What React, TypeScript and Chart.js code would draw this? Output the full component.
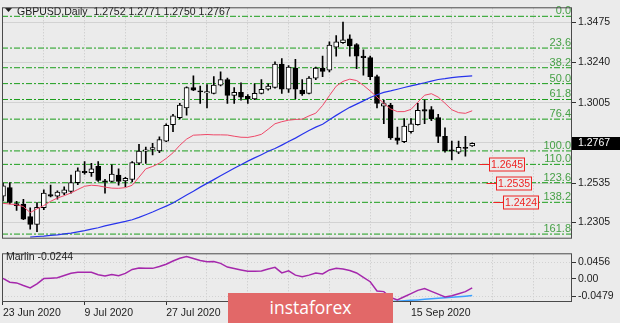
import React, { useEffect, useRef } from 'react';
import { Chart, registerables } from 'chart.js';

Chart.register(...registerables);

// ---------- data ----------
const dates = ['23 Jun 2020','24 Jun 2020','25 Jun 2020','26 Jun 2020','29 Jun 2020','30 Jun 2020','1 Jul 2020','2 Jul 2020','3 Jul 2020','6 Jul 2020','7 Jul 2020','8 Jul 2020','9 Jul 2020','10 Jul 2020','13 Jul 2020','14 Jul 2020','15 Jul 2020','16 Jul 2020','17 Jul 2020','20 Jul 2020','21 Jul 2020','22 Jul 2020','23 Jul 2020','24 Jul 2020','27 Jul 2020','28 Jul 2020','29 Jul 2020','30 Jul 2020','31 Jul 2020','3 Aug 2020','4 Aug 2020','5 Aug 2020','6 Aug 2020','7 Aug 2020','10 Aug 2020','11 Aug 2020','12 Aug 2020','13 Aug 2020','14 Aug 2020','17 Aug 2020','18 Aug 2020','19 Aug 2020','20 Aug 2020','21 Aug 2020','24 Aug 2020','25 Aug 2020','26 Aug 2020','27 Aug 2020','28 Aug 2020','31 Aug 2020','1 Sep 2020','2 Sep 2020','3 Sep 2020','4 Sep 2020','7 Sep 2020','8 Sep 2020','9 Sep 2020','10 Sep 2020','11 Sep 2020','14 Sep 2020','15 Sep 2020','16 Sep 2020','17 Sep 2020','18 Sep 2020','21 Sep 2020','22 Sep 2020','23 Sep 2020','24 Sep 2020','25 Sep 2020','28 Sep 2020'];

const open = [1.2458,1.2509,1.2414,1.2412,1.2338,1.2292,1.2390,1.2467,1.2458,1.2476,
  1.2486,1.2537,1.2603,1.2596,1.2633,1.2548,1.2545,1.2581,1.2548,1.2556,
  1.2651,1.2722,1.2731,1.2723,1.2780,1.2876,1.2918,1.2975,1.3094,1.3075,
  1.3062,1.3060,1.3108,1.3140,1.3048,1.3066,1.3042,1.3027,1.3060,1.3084,
  1.3094,1.3232,1.3084,1.3208,1.3079,1.3060,1.3149,1.3208,1.3195,1.3330,
  1.3357,1.3379,1.3346,1.3278,1.3269,1.3158,1.2985,1.2992,1.2799,1.2777,
  1.2836,1.2876,1.2965,1.2965,1.2918,1.2808,1.2729,1.2716,1.2744,1.2752];
const high = [1.2535,1.2537,1.2428,1.2440,1.2390,1.2421,1.2495,1.2523,1.2490,1.2513,
  1.2581,1.2624,1.2661,1.2651,1.2661,1.2556,1.2642,1.2618,1.2569,1.2661,
  1.2762,1.2745,1.2768,1.2806,1.2882,1.2937,1.3001,1.3098,1.3162,1.3103,
  1.3112,1.3158,1.3186,1.3149,1.3094,1.3121,1.3053,1.3116,1.3140,1.3116,
  1.3245,1.3263,1.3222,1.3259,1.3140,1.3158,1.3214,1.3278,1.3361,1.3398,
  1.3477,1.3403,1.3352,1.3315,1.3278,1.3167,1.3020,1.3001,1.2863,1.2913,
  1.2913,1.3001,1.3020,1.2983,1.2937,1.2858,1.2780,1.2780,1.2808,1.2771];
const low = [1.2430,1.2412,1.2375,1.2320,1.2265,1.2250,1.2379,1.2454,1.2440,1.2467,
  1.2476,1.2526,1.2587,1.2574,1.2545,1.2476,1.2541,1.2523,1.2513,1.2541,
  1.2642,1.2650,1.2700,1.2712,1.2777,1.2836,1.2910,1.2932,1.3075,1.3001,
  1.2974,1.3057,1.3103,1.3001,1.3001,1.3020,1.3001,1.3023,1.3057,1.3079,
  1.3090,1.3060,1.3066,1.3029,1.3048,1.3057,1.3140,1.3158,1.3186,1.3278,
  1.3352,1.3278,1.3204,1.3167,1.3140,1.2974,1.2882,1.2790,1.2762,1.2771,
  1.2827,1.2873,1.2882,1.2900,1.2771,1.2716,1.2670,1.2707,1.2692,1.2750];
const close = [1.2519,1.2421,1.2403,1.2324,1.2292,1.2393,1.2476,1.2458,1.2482,1.2495,
  1.2537,1.2606,1.2596,1.2618,1.2550,1.2541,1.2587,1.2545,1.2563,1.2655,
  1.2722,1.2730,1.2742,1.2790,1.2873,1.2928,1.2992,1.3094,1.3079,1.3068,
  1.3070,1.3108,1.3140,1.3048,1.3066,1.3038,1.3027,1.3060,1.3084,1.3103,
  1.3232,1.3084,1.3214,1.3084,1.3057,1.3149,1.3208,1.3189,1.3342,1.3361,
  1.3374,1.3338,1.3278,1.3269,1.3158,1.3001,1.3000,1.2799,1.2784,1.2869,
  1.2882,1.2961,1.2955,1.2910,1.2808,1.2725,1.2722,1.2744,1.2738,1.2767];

const maFast = [1.2416,1.2412,1.2408,1.2397,1.2362,1.2384,1.2403,1.2428,1.2447,1.2461,
  1.2477,1.2497,1.2516,1.2522,1.2519,1.2511,1.2505,1.2504,1.2508,1.2522,
  1.2569,1.2618,1.2632,1.2651,1.2679,1.2712,1.2756,1.2792,1.2815,1.2817,
  1.2819,1.2817,1.2817,1.2816,1.2809,1.2803,1.2802,1.2809,1.2820,1.2850,
  1.2882,1.2894,1.2903,1.2907,1.2909,1.2928,1.2944,1.2989,1.3047,1.3102,
  1.3130,1.3143,1.3135,1.3107,1.3074,1.3038,1.3002,1.2969,1.2953,1.2953,
  1.2966,1.3008,1.3049,1.3058,1.3038,1.3002,1.2964,1.2947,1.2943,1.2958];
const maSlow = [null,null,null,null,1.2218,1.2222,1.2224,1.2228,1.2231,1.2237,
  1.2242,1.2249,1.2256,1.2265,1.2273,1.2284,1.2293,1.2302,1.2310,1.2320,
  1.2334,1.2349,1.2365,1.2383,1.2400,1.2418,1.2441,1.2465,1.2487,1.2511,
  1.2533,1.2555,1.2577,1.2599,1.2621,1.2642,1.2663,1.2682,1.2701,1.2721,
  1.2737,1.2757,1.2778,1.2798,1.2820,1.2842,1.2862,1.2879,1.2906,1.2931,
  1.2955,1.2978,1.2997,1.3016,1.3036,1.3052,1.3066,1.3074,1.3084,1.3094,
  1.3104,1.3113,1.3122,1.3132,1.3141,1.3146,1.3152,1.3156,1.3159,1.3162];

const marlin = [0.0013,-0.0090,-0.0109,-0.0180,-0.0246,-0.0133,0.0009,0.0018,0.0030,0.0091,
  0.0155,0.0180,0.0180,0.0178,0.0112,0.0079,0.0122,0.0089,0.0150,0.0256,
  0.0298,0.0289,0.0286,0.0338,0.0399,0.0487,0.0560,0.0607,0.0553,0.0501,
  0.0465,0.0472,0.0421,0.0322,0.0284,0.0244,0.0206,0.0209,0.0216,0.0268,
  0.0315,0.0162,0.0220,0.0103,0.0056,0.0103,0.0162,0.0133,0.0244,0.0291,
  0.0268,0.0230,0.0162,0.0044,-0.0076,-0.0328,-0.0345,-0.0505,-0.0573,-0.0486,
  -0.0399,-0.0312,-0.0262,-0.0340,-0.0415,-0.0493,-0.0460,-0.0404,-0.0347,-0.0244];
const marlinSignal = [null,null,null,null,null,null,null,null,null,null,
  null,null,null,null,null,null,null,null,null,null,
  null,null,null,null,null,null,null,null,null,null,
  null,null,null,null,null,null,null,null,null,null,
  null,null,null,null,null,null,null,null,null,null,
  null,null,null,null,null,null,null,-0.0616,-0.0606,-0.0594,
  -0.0583,-0.0570,-0.0553,-0.0537,-0.0526,-0.0514,-0.0500,-0.0486,-0.0470,-0.0452];

const priceTicks = [1.2305, 1.2535, 1.2770, 1.3005, 1.3240, 1.3475];
const priceTickLabels = ['1.2305', '1.2535', '1.2770', '1.3005', '1.3240', '1.3475'];
const marlinTicks = [-0.0479, 0, 0.0456];
const marlinTickLabels = ['-0.0479', '0.00', '0.0456'];

const fibLevels = [0, 23.6, 38.2, 50, 61.8, 76.4, 100, 110, 123.6, 138.2, 161.8];
const fibLabels = ['0.0', '23.6', '38.2', '50.0', '61.8', '76.4', '100.0', '110.0', '123.6', '138.2', '161.8'];
const fibHigh = 1.3511;
const fibLow = 1.2723;

const targetPrices = [1.2645, 1.2535, 1.2424];
const targetLabels = ['1.2645', '1.2535', '1.2424'];
const targetLineFrom = [70.1, 71.1, 72.1];
const targetBoxAt = [71.4, 72.5, 73.5];

const gridBars = [0, 6, 12, 18, 24, 30, 36, 42, 48, 54, 60, 66, 72, 78];
const dateLabelStep = 12;

// ---------- style ----------
const BG = '#ebebeb';
const TEXT = '#1c1c1c';
const GRID_V = '#c6c6c6';
const GRID_H = '#d2d2d2';
const FRAME = '#4a4a4a';
const FIB_LINE = '#1b9e1b';
const FIB_TEXT = '#46a046';
const RED = '#ee2424';
const PINK = 'rgb(238,72,104)';
const BLUE = 'rgb(40,52,236)';
const PURPLE = 'rgb(165,40,172)';
const LIGHTBLUE = 'rgb(60,160,255)';
const FONT = '"Liberation Sans", Arial, sans-serif';

const X_MIN = -0.147;
const X_MAX = 83.677;
const Y_MIN = 1.22149;
const Y_MAX = 1.35579;
const M_MIN = -0.06274;
const M_MAX = 0.0668;

const fibPrice = (lv: number) => fibHigh - (lv / 100) * (fibHigh - fibLow);
const idx = close.map((_, i) => i);

const mainPlugin = {
  id: 'mainDecor',
  afterDatasetsDraw(chart: any) {
    const { ctx, chartArea: a, scales } = chart;
    const x = scales.x, y = scales.y;
    ctx.save();
    // fib labels
    ctx.font = `11px ${FONT}`;
    ctx.fillStyle = FIB_TEXT;
    ctx.textAlign = 'right';
    ctx.textBaseline = 'alphabetic';
    fibLevels.forEach((lv, k) => {
      const py = y.getPixelForValue(fibPrice(lv));
      ctx.fillText(fibLabels[k], a.right - 1, py - 2);
    });
    // target boxes
    ctx.font = `10.5px ${FONT}`;
    targetPrices.forEach((p, k) => {
      const py = Math.round(y.getPixelForValue(p)) + 0.5;
      const x0 = x.getPixelForValue(targetLineFrom[k]);
      const xb = Math.round(x.getPixelForValue(targetBoxAt[k])) + 0.5;
      ctx.strokeStyle = RED;
      ctx.lineWidth = 1;
      ctx.beginPath();
      ctx.moveTo(x0, py);
      ctx.lineTo(xb, py);
      ctx.stroke();
      ctx.fillStyle = BG;
      ctx.fillRect(xb, py - 6.5, 35, 13);
      ctx.strokeRect(xb, py - 6.5, 35, 13);
      ctx.fillStyle = RED;
      ctx.textAlign = 'center';
      ctx.textBaseline = 'middle';
      ctx.fillText(targetLabels[k], xb + 17.5, py + 0.5);
    });
    // title
    ctx.fillStyle = TEXT;
    ctx.beginPath();
    ctx.moveTo(5, 8);
    ctx.lineTo(12, 8);
    ctx.lineTo(8.5, 12);
    ctx.closePath();
    ctx.fill();
    ctx.font = `10.5px ${FONT}`;
    ctx.textAlign = 'left';
    ctx.textBaseline = 'alphabetic';
    const n = close.length - 1;
    ctx.fillText(`GBPUSD,Daily  ${open[n].toFixed(4)} ${high[n].toFixed(4)} ${low[n].toFixed(4)} ${close[n].toFixed(4)}`, 17, 15);
    ctx.restore();
  },
  afterDraw(chart: any) {
    const { ctx, chartArea: a, scales } = chart;
    const y = scales.y;
    ctx.save();
    ctx.strokeStyle = FRAME;
    ctx.lineWidth = 1;
    ctx.strokeRect(a.left + 0.5, a.top - 0.5, a.right - a.left - 1, a.bottom - a.top + 1);
    // current price box
    const n = close.length - 1;
    const py = Math.round(y.getPixelForValue(close[n]));
    ctx.fillStyle = '#000';
    ctx.fillRect(a.right, py - 6, chart.width - a.right, 13);
    ctx.fillStyle = '#fff';
    ctx.font = `10.5px ${FONT}`;
    ctx.textAlign = 'left';
    ctx.textBaseline = 'middle';
    ctx.fillText(close[n].toFixed(4), a.right + 6, py + 0.5);
    ctx.restore();
  },
};

const subPlugin = {
  id: 'subDecor',
  afterDraw(chart: any) {
    const { ctx, chartArea: a } = chart;
    ctx.save();
    ctx.strokeStyle = FRAME;
    ctx.lineWidth = 1;
    ctx.strokeRect(a.left + 0.5, a.top - 0.5, a.right - a.left - 1, a.bottom - a.top);
    ctx.fillStyle = TEXT;
    ctx.font = `10.5px ${FONT}`;
    ctx.textAlign = 'left';
    ctx.textBaseline = 'alphabetic';
    ctx.fillText(`Marlin ${marlin[marlin.length - 1].toFixed(4)}`, 6, 14);
    ctx.restore();
  },
};

function mainConfig(): any {
  return {
    type: 'bar',
    data: {
      datasets: [
        ...fibLevels.map((lv) => ({
          type: 'line',
          data: [{ x: X_MIN, y: fibPrice(lv) }, { x: X_MAX, y: fibPrice(lv) }],
          borderColor: FIB_LINE,
          borderWidth: 1,
          borderDash: [6, 2, 2, 2],
          pointRadius: 0,
          order: 10,
        })),
        {
          type: 'bar',
          data: idx.map((i) => ({ x: i, y: [low[i], high[i]] })),
          backgroundColor: '#000',
          borderWidth: 0,
          barThickness: 1,
          grouped: false,
          order: 6,
        },
        {
          type: 'bar',
          data: idx.map((i) => ({ x: i, y: [open[i], close[i]] })),
          backgroundColor: idx.map((i) => (close[i] >= open[i] ? '#ffffff' : '#000000')),
          borderColor: '#000',
          borderWidth: 1,
          borderSkipped: false,
          barThickness: 5,
          grouped: false,
          order: 5,
        },
        {
          type: 'line',
          data: idx.map((i) => ({ x: i, y: maFast[i] })),
          borderColor: PINK,
          borderWidth: 1,
          pointRadius: 0,
          order: 2,
        },
        {
          type: 'line',
          data: idx.map((i) => ({ x: i, y: maSlow[i] })),
          borderColor: BLUE,
          borderWidth: 1.2,
          pointRadius: 0,
          order: 1,
        },
      ],
    },
    options: {
      responsive: false,
      animation: false,
      devicePixelRatio: 1,
      events: [],
      layout: { padding: { left: 2, top: 1, right: 0, bottom: 2 } },
      plugins: { legend: { display: false }, tooltip: { enabled: false } },
      scales: {
        x: {
          type: 'linear',
          min: X_MIN,
          max: X_MAX,
          offset: false,
          afterBuildTicks: (s: any) => { s.ticks = gridBars.map((v) => ({ value: v })); },
          afterFit: (s: any) => { s.height = 0; },
          ticks: { display: false },
          grid: { color: GRID_V, lineWidth: 1, drawTicks: false, offset: false, borderDash: [1, 2] },
          border: { display: false, dash: [1, 2] },
        },
        y: {
          type: 'linear',
          position: 'right',
          min: Y_MIN,
          max: Y_MAX,
          beginAtZero: false,
          afterBuildTicks: (s: any) => { s.ticks = priceTicks.map((v) => ({ value: v })); },
          afterFit: (s: any) => { s.width = 48; },
          ticks: {
            callback: (_v: any, i: number) => priceTickLabels[i],
            color: TEXT,
            font: { family: FONT, size: 10.5 },
            padding: 2,
          },
          grid: { color: GRID_H, lineWidth: 1, tickLength: 4, tickColor: '#333' },
          border: { display: false },
        },
      },
    },
    plugins: [mainPlugin],
  };
}

function subConfig(): any {
  return {
    type: 'line',
    data: {
      datasets: [
        {
          data: idx.map((i) => ({ x: i, y: marlinSignal[i] })),
          borderColor: LIGHTBLUE,
          borderWidth: 1.5,
          pointRadius: 0,
          order: 2,
        },
        {
          data: idx.map((i) => ({ x: i, y: marlin[i] })),
          borderColor: PURPLE,
          borderWidth: 1.5,
          pointRadius: 0,
          order: 1,
        },
      ],
    },
    options: {
      responsive: false,
      animation: false,
      devicePixelRatio: 1,
      events: [],
      layout: { padding: { left: 2, top: 1, right: 0, bottom: 0 } },
      plugins: { legend: { display: false }, tooltip: { enabled: false } },
      scales: {
        x: {
          type: 'linear',
          min: X_MIN,
          max: X_MAX,
          offset: false,
          afterBuildTicks: (s: any) => { s.ticks = gridBars.map((v) => ({ value: v })); },
          afterFit: (s: any) => { s.height = 21; },
          ticks: {
            autoSkip: false,
            maxRotation: 0,
            minRotation: 0,
            align: 'start',
            padding: 2,
            color: TEXT,
            font: { family: FONT, size: 10.5 },
            callback: (_v: any, i: number) => {
              const b = gridBars[i];
              return b % dateLabelStep === 0 && b < dates.length ? dates[b] : '';
            },
          },
          grid: {
            color: GRID_V,
            lineWidth: 1,
            offset: false,
            tickLength: 3,
            tickColor: (c: any) => (c.tick && c.tick.value % dateLabelStep === 0 && c.tick.value < dates.length ? '#333' : 'rgba(0,0,0,0)'),
            borderDash: [1, 2],
          },
          border: { display: false, dash: [1, 2] },
        },
        y: {
          type: 'linear',
          position: 'right',
          min: M_MIN,
          max: M_MAX,
          afterBuildTicks: (s: any) => { s.ticks = marlinTicks.map((v) => ({ value: v })); },
          afterFit: (s: any) => { s.width = 48; },
          ticks: {
            callback: (_v: any, i: number) => marlinTickLabels[i],
            color: TEXT,
            font: { family: FONT, size: 10.5 },
            padding: 2,
          },
          grid: { color: GRID_H, lineWidth: 1, tickLength: 4, tickColor: '#333', borderDash: [1, 2] },
          border: { display: false, dash: [1, 2] },
        },
      },
    },
    plugins: [subPlugin],
  };
}

export default function App() {
  const mainRef = useRef<HTMLCanvasElement>(null);
  const subRef = useRef<HTMLCanvasElement>(null);

  useEffect(() => {
    const main = new Chart(mainRef.current as HTMLCanvasElement, mainConfig());
    const sub = new Chart(subRef.current as HTMLCanvasElement, subConfig());
    return () => {
      main.destroy();
      sub.destroy();
    };
  }, []);

  return (
    <div style={{ position: 'fixed', left: 0, top: 0, width: 620, height: 323, background: BG, overflow: 'hidden' }}>
      <canvas ref={mainRef} width={620} height={246} style={{ position: 'absolute', left: 0, top: 0, width: 620, height: 246 }} />
      <canvas ref={subRef} width={620} height={77} style={{ position: 'absolute', left: 0, top: 246, width: 620, height: 77 }} />
      <div
        style={{
          position: 'absolute',
          left: 228,
          top: 293,
          width: 165,
          height: 30,
          background: '#e26868',
          color: '#ffffff',
          fontFamily: '"Open Sans", sans-serif',
          fontSize: 17.5,
          display: 'flex',
          alignItems: 'center',
          justifyContent: 'center',
          boxSizing: 'border-box',
          paddingBottom: 2,
        }}
      >
        instaforex
      </div>
    </div>
  );
}
